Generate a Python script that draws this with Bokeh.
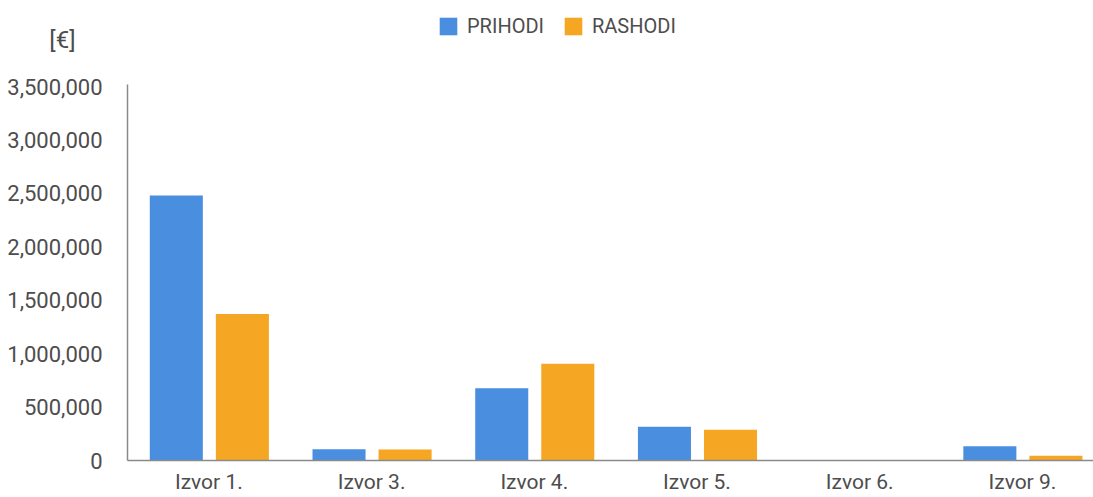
import numpy as np
from bokeh.plotting import figure
from bokeh.models import (ColumnDataSource, Range1d, FixedTicker, Legend, LegendItem,
                          Label, NumeralTickFormatter)
from bokeh.embed import file_html
from bokeh.resources import INLINE

categories = ["Izvor 1.", "Izvor 3.", "Izvor 4.", "Izvor 5.", "Izvor 6.", "Izvor 9."]
prihodi = [2480000, 105000, 677000, 315000, 0, 134000]
rashodi = [1372000, 104000, 906000, 287000, 0, 44000]
y_ticks = [0, 500000, 1000000, 1500000, 2000000, 2500000, 3000000, 3500000]
series_names = ["PRIHODI", "RASHODI"]
colors = ["#4a8ee0", "#f5a623"]

FONT = "Roboto"
TXT = "#4d4d4d"
W, H = 1093, 497
AXIS_TOP = 3520000
UNITS_PER_PX = AXIS_TOP / 376
Y_START = -(H - 460) * UNITS_PER_PX   # frame covers the whole canvas
Y_END = 460 * UNITS_PER_PX
PX_PER_CAT = 162.7
X_START = -127 / PX_PER_CAT
X_END = 5.937

pos = np.arange(len(categories)) + 0.5
src = ColumnDataSource(dict(
    xp=pos - 0.2, xr=pos + 0.206, prihodi=prihodi, rashodi=rashodi))

p = figure(width=W, height=H, x_range=Range1d(X_START, X_END), y_range=Range1d(Y_START, Y_END),
           output_backend="svg", toolbar_location=None,
           min_border_left=0, min_border_right=0, min_border_top=0, min_border_bottom=0)
p.outline_line_color = None
p.xgrid.visible = False
p.ygrid.visible = False

r1 = p.vbar(x="xp", top="prihodi", width=0.326, source=src, color=colors[0], line_color=None)
r2 = p.vbar(x="xr", top="rashodi", width=0.326, source=src, color=colors[1], line_color=None)

# axes
p.xaxis.ticker = FixedTicker(ticks=list(pos))
p.xaxis.major_label_overrides = {float(x): c for x, c in zip(pos, categories)}
p.xaxis.bounds = (0, X_END)
p.xaxis.fixed_location = 0
p.yaxis.ticker = FixedTicker(ticks=y_ticks)
p.yaxis.formatter = NumeralTickFormatter(format="0,0")
p.yaxis.bounds = (0, AXIS_TOP)
p.yaxis.fixed_location = 0
for ax in (p.xaxis[0], p.yaxis[0]):
    ax.major_tick_line_color = None
    ax.minor_tick_line_color = None
    ax.major_tick_out = 0
    ax.major_tick_in = 0
    ax.minor_tick_out = 0
    ax.minor_tick_in = 0
    ax.axis_line_color = "#8a8a8a"
    ax.axis_line_width = 1.5
    ax.major_label_text_font = FONT
    ax.major_label_text_color = TXT
p.yaxis.major_label_text_font_size = "22px"
p.xaxis.major_label_text_font_size = "21px"
p.yaxis.major_label_standoff = 25
p.xaxis.major_label_standoff = 9

legend = Legend(items=[LegendItem(label=series_names[0], renderers=[r1]),
                       LegendItem(label=series_names[1], renderers=[r2])],
                orientation="horizontal", location=(127 + 310, H - 38),
                glyph_width=22, glyph_height=22, label_standoff=8, spacing=18,
                padding=0, margin=0, border_line_color=None, background_fill_alpha=0,
                label_text_font=FONT, label_text_font_size="20px", label_text_color=TXT)
p.add_layout(legend, "center")

# unit label above the y-axis
unit = Label(x=-0.40, y=(460 - 39) * UNITS_PER_PX, text="[€]",
             text_font=FONT, text_font_size="24px", text_color=TXT,
             text_align="center", text_baseline="middle")
p.add_layout(unit)

open("out.html", "w").write(file_html(p, INLINE))
